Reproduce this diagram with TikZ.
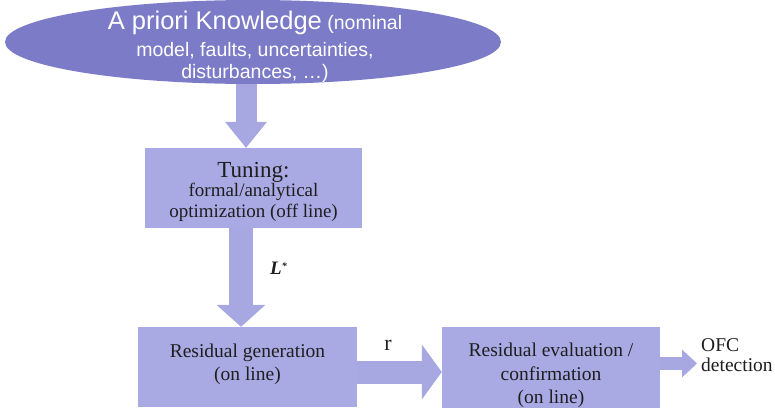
\documentclass[tikz,border=0pt]{standalone}
\usepackage{fontspec}
\setmainfont{Liberation Serif}
\newfontfamily\arialf{Liberation Sans}
\usetikzlibrary{arrows.meta,calc,shapes.geometric}
\definecolor{ellfill}{HTML}{7B7BC8}
\definecolor{boxfill}{HTML}{A9AAE3}
\definecolor{arrfill}{HTML}{A7A8E1}
\definecolor{txt}{HTML}{1E1E1E}
\begin{document}
\begin{tikzpicture}[x=1pt,y=-1pt,
  box/.style={rectangle, fill=boxfill, inner sep=0pt, align=center, text=txt,
              font=\fontsize{19.5}{23.5}\selectfont},
  fat/.style={draw=arrfill, line cap=butt}]
\useasboundingbox (0,0) rectangle (775,410);

% a priori knowledge
\node[ellipse, fill=ellfill, minimum width=496pt, minimum height=84pt, inner sep=0pt] (know) at (253,42) {};
\node[align=center, text=white, inner sep=0pt, font=\arialf\fontsize{19.5}{22}\selectfont] (ktext) at (255,42)
  {\rule{0pt}{29pt}{\fontsize{25.5}{27}\selectfont A priori Knowledge} (nominal\\[5pt]
   model, faults, uncertainties,\\ disturbances, …)};

% boxes
\node[box, minimum width=217pt, minimum height=80pt, font=\fontsize{19}{21.5}\selectfont] (tun) at (253.5,188)
  {\rule{0pt}{23.5pt}{\fontsize{23}{26}\selectfont Tuning:}\\[-2.5pt] formal/analytical\\ optimization (off line)};
\node[box, minimum width=219pt, minimum height=80pt] (rg) at (247.5,367)
  {Residual generation\\(on line)\rule[-10pt]{0pt}{10pt}};
\node[box, minimum width=218pt, minimum height=81pt] (ev) at (551,367.5)
  {\rule{0pt}{30pt}Residual evaluation /\\confirmation\\(on line)};

% output text
\node[anchor=north west, inner sep=0pt, align=left, text=txt, font=\fontsize{19.5}{20}\selectfont] (ofc) at (701,338.8)
  {OFC\\detection};
\coordinate (ofcend) at (697,363.5);

% connectors
\draw[fat, line width=21pt, -{Triangle[width=42pt,length=26pt,line width=0pt]}]
  ($(know.south)+(-7,0)$) -- ($(tun.north)+(-7.5,0)$);
\draw[fat, line width=24pt, -{Triangle[width=49pt,length=22pt,line width=0pt]}]
  ($(tun.south)+(-12.5,0)$) -- ($(rg.north)+(-6.5,0)$);
\draw[fat, line width=23pt, -{Triangle[width=55pt,length=20pt,line width=0pt]}]
  ($(rg.east)+(0,5)$) -- ($(ev.west)+(0,4.5)$);
\draw[fat, line width=13pt, -{Triangle[width=28pt,length=15pt,line width=0pt]}]
  ($(ev.east)+(0,-4)$) -- (ofcend);

% labels
\node[anchor=base west, inner sep=0pt, text=txt, font=\fontsize{19}{19}\selectfont\bfseries\itshape] (lstar) at (270,274)
  {L\raisebox{5pt}{\fontsize{10}{10}\selectfont *}};
\node[anchor=base, inner sep=0pt, text=txt, font=\fontsize{22}{22}\selectfont] (rlab) at (388,350) {r};
\end{tikzpicture}
\end{document}
